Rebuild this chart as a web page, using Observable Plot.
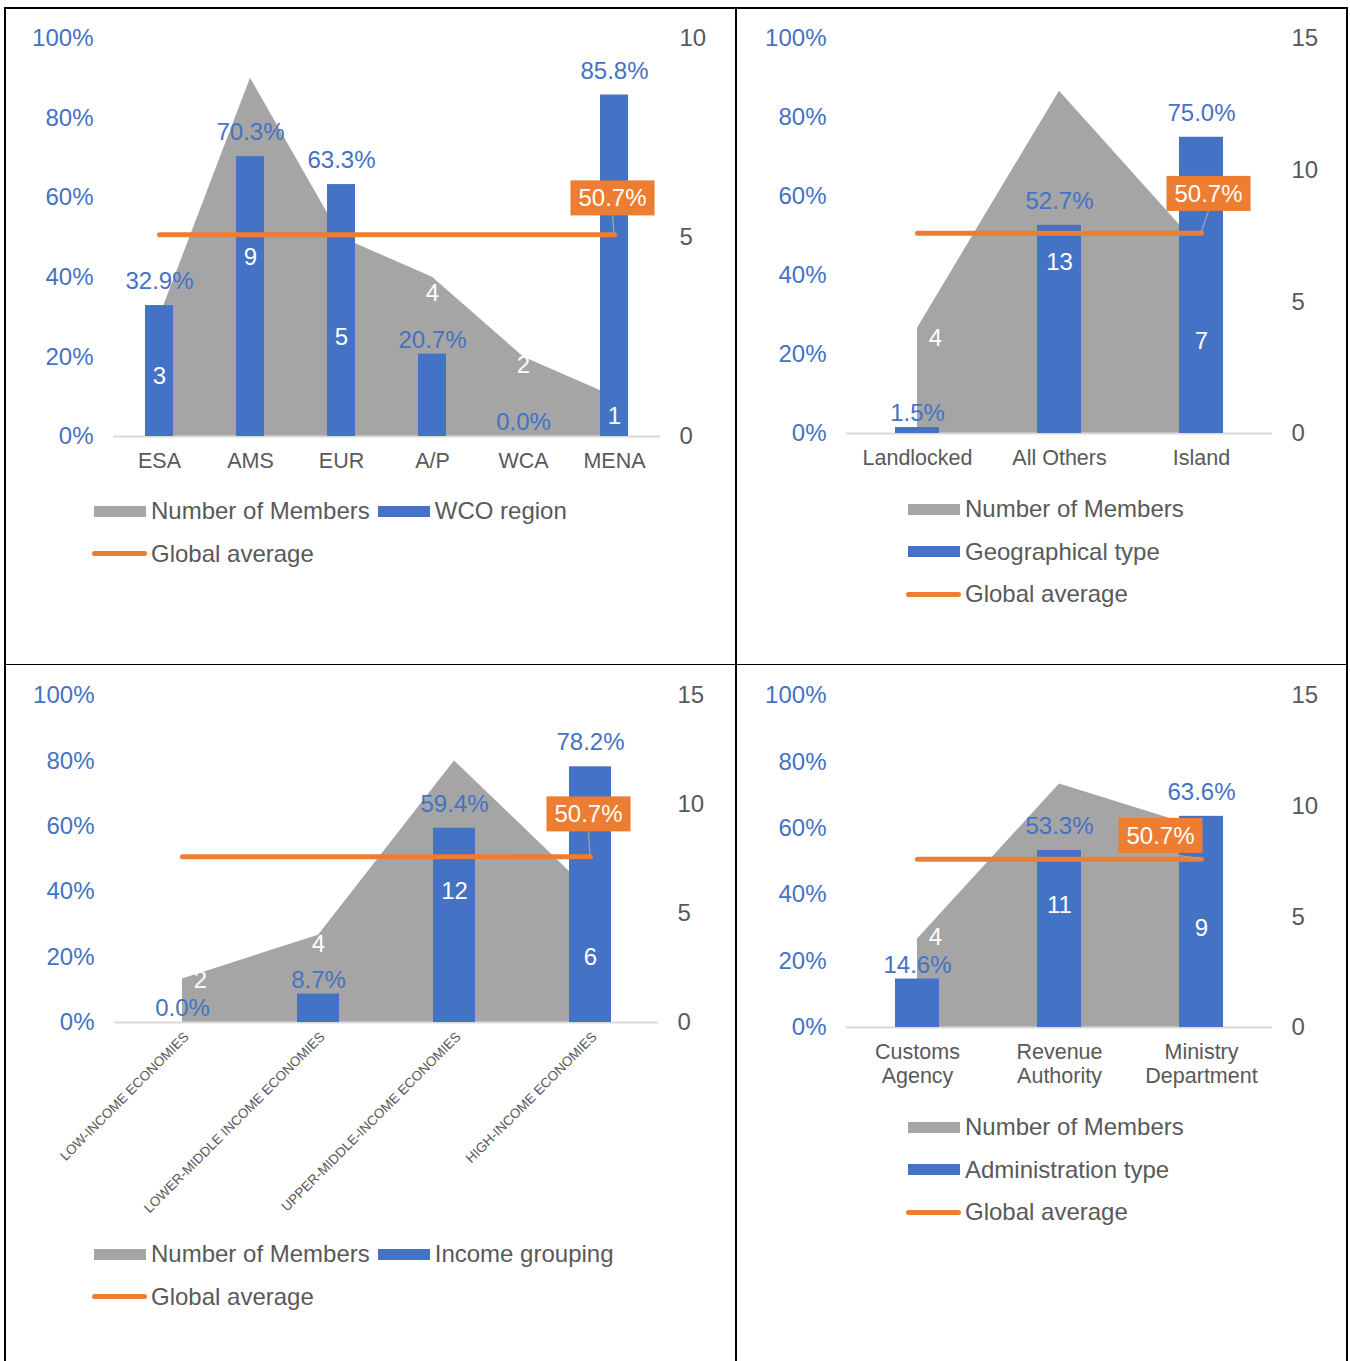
<!DOCTYPE html>
<html><head><meta charset="utf-8">
<script src="https://cdn.jsdelivr.net/npm/d3@7"></script>
<script src="https://cdn.jsdelivr.net/npm/@observablehq/plot@0.6"></script>
<style>
body{margin:0;background:#fff;font-family:"Liberation Sans",Arial,sans-serif;}
#page{position:relative;width:1350px;height:1361px;overflow:hidden;background:#fff;}
.panel{position:absolute;}
.panel svg{overflow:visible;}
.bline{position:absolute;background:#000;}
.leg{position:absolute;font-size:24px;color:#595959;line-height:26px;white-space:nowrap;}
.legrow{display:flex;align-items:center;height:26px;margin-bottom:16.5px;}
.item{display:flex;align-items:center;margin-right:8px;}
.sw{display:inline-block;width:52px;height:11px;margin-right:5px;}
.swl{display:inline-block;width:55px;height:5px;border-radius:3px;margin-right:4px;margin-left:-2px;}
</style></head>
<body><div id="page"></div>
<script>
// ---------------- data ----------------
const regionCats = ["ESA","AMS","EUR","A/P","WCA","MENA"];
const regionPct = [32.9,70.3,63.3,20.7,0.0,85.8];
const regionMembers = [3,9,5,4,2,1];

const geoCats = ["Landlocked","All Others","Island"];
const geoPct = [1.5,52.7,75.0];
const geoMembers = [4,13,7];

const incomeCats = ["LOW-INCOME ECONOMIES","LOWER-MIDDLE INCOME ECONOMIES","UPPER-MIDDLE-INCOME ECONOMIES","HIGH-INCOME ECONOMIES"];
const incomePct = [0.0,8.7,59.4,78.2];
const incomeMembers = [2,4,12,6];

const adminCats = ["Customs Agency","Revenue Authority","Ministry Department"];
const adminPct = [14.6,53.3,63.6];
const adminMembers = [4,11,9];

const globalAverage = 50.7;
const pctTicks = [0,20,40,60,80,100];
const regionMemberTicks = [0,5,10];
const otherMemberTicks = [0,5,10,15];

const BLUE = "#4472C4", GRAY = "#A5A5A5", ORANGE = "#ED7D31", TEXT = "#595959";
const FS = 24;
const page = document.getElementById("page");
const SVGNS = "http://www.w3.org/2000/svg";

// ---------------- borders ----------------
[[4,7,1344,2],[4,7,2,1354],[735,7,2,1354],[1346,7,2,1354],[4,664,1344,1]].forEach(([l,t,w,h])=>{
  const d=document.createElement("div");d.className="bline";
  Object.assign(d.style,{left:l+"px",top:t+"px",width:w+"px",height:h+"px"});page.appendChild(d);
});

function panel(o){
  const {cats,pct,members,memberMax,memberTicks} = o;
  const innerH = o.height-o.mt-o.mb;
  const gapPct = 42/innerH*100;              // keep member label clear of the % label
  const data = cats.map((c,i)=>({cat:c,i,pct:pct[i],members:members[i],m:members[i]/memberMax*100}));
  // member-count label: centred in the bar when the bar is tall enough, otherwise near the area top
  const centered = d => d.pct/100*memberMax > d.members/2 + 1;
  const labelY = d => centered(d) ? d.members/2/memberMax*100
                                  : Math.max(d.members*0.9/memberMax*100, d.pct+gapPct);
  const shifted = data.filter(d => d.i===0 && !centered(d));
  const plain = data.filter(d => !(d.i===0 && !centered(d)));
  const tall = data.filter(centered), low = data.filter(d=>!centered(d));
  const last = data[data.length-1];
  const avgStr = globalAverage.toFixed(1)+"%";
  const pctText = d=>d.pct.toFixed(1)+"%";

  const xAxis = o.rotate
    ? Plot.axisX({tickSize:0,tickPadding:12,tickRotate:-45,fontSize:13.5,fill:TEXT,label:null,dx:4})
    : Plot.axisX({tickSize:0,tickPadding:14,fontSize:21.5,fill:TEXT,label:null,lineHeight:1.12,
        tickFormat: o.multiline ? (d=>d.split(" ").join("\n")) : (d=>d)});

  const chart = Plot.plot({
    width:o.width,height:o.height,
    marginLeft:o.ml,marginRight:o.mr,marginTop:o.mt,marginBottom:o.mb,
    style:{fontFamily:'"Liberation Sans",Arial,sans-serif',fontSize:FS+"px",color:TEXT,background:"transparent",overflow:"visible"},
    x:{type:"band",domain:cats,paddingInner:0.69,paddingOuter:0.345,align:0.5,label:null},
    y:{domain:[0,100],label:null},
    marks:[
      Plot.areaY(data,{x:"cat",y:"m",fill:GRAY}),
      Plot.ruleY([0],{stroke:"#D9D9D9",strokeWidth:2}),
      Plot.barY(data,{x:"cat",y:"pct",fill:BLUE}),
      Plot.lineY(data,{x:"cat",y:()=>globalAverage,stroke:ORANGE,strokeWidth:5,strokeLinecap:"round"}),
      Plot.text(tall,{x:"cat",y:"pct",text:pctText,dy:-24,fill:BLUE,fontSize:FS}),
      Plot.text(low,{x:"cat",y:"pct",text:pctText,dy:-14,fill:BLUE,fontSize:FS}),
      Plot.text(plain,{x:"cat",y:labelY,text:d=>String(d.members),fill:"white",fontSize:FS}),
      Plot.text(shifted,{x:"cat",y:labelY,text:d=>String(d.members),dx:18,fill:"white",fontSize:FS}),
      Plot.text([last],{x:"cat",y:()=>globalAverage,text:()=>avgStr,dx:o.avgDx,dy:o.avgDy,fill:"white",fontSize:FS}),
      Plot.axisY({anchor:"left",ticks:pctTicks,tickFormat:d=>d+"%",tickSize:0,tickPadding:20,fill:BLUE,fontSize:FS,label:null}),
      Plot.axisY({anchor:"right",ticks:memberTicks.map(t=>t/memberMax*100),tickFormat:d=>String(Math.round(d*memberMax/100)),tickSize:0,tickPadding:19,fill:TEXT,fontSize:FS,label:null}),
      xAxis
    ]
  });
  const wrap=document.createElement("div");wrap.className="panel";
  wrap.style.left=o.left+"px";wrap.style.top=o.top+"px";
  wrap.appendChild(chart);page.appendChild(wrap);

  // orange call-out box + leader line behind the global-average label
  const svgEl = chart.tagName.toLowerCase()==="svg" ? chart : chart.querySelector("svg");
  const t = Array.from(svgEl.querySelectorAll("text")).find(e=>e.textContent===avgStr);
  if(t){
    const b=t.getBBox(), M=t.getCTM();
    const x0=M.e+b.x*M.a, w=b.width*M.a, cy=M.f+(b.y+b.height/2)*M.d;
    const padX=8, boxH=35;
    let top=t; while(top.parentNode!==svgEl) top=top.parentNode;
    const rect=document.createElementNS(SVGNS,"rect");
    rect.setAttribute("x",x0-padX);rect.setAttribute("y",cy-boxH/2);
    rect.setAttribute("width",w+2*padX);rect.setAttribute("height",boxH);rect.setAttribute("fill",ORANGE);
    svgEl.insertBefore(rect,top);
    let ex, ey;
    try{
      const xs=chart.scale("x"), ys=chart.scale("y");
      ex=xs.apply(last.cat)+xs.bandwidth/2; ey=ys.apply(globalAverage);
    }catch(e){
      const step=(o.width-o.ml-o.mr)/cats.length;
      ex=o.ml+step*(cats.length-0.5); ey=o.mt+innerH*(1-globalAverage/100);
    }
    const bb=cy+boxH/2, bx=x0+w/2;
    if(ey-bb>4){
      const ln=document.createElementNS(SVGNS,"line");
      ln.setAttribute("x1",bx);ln.setAttribute("y1",bb);ln.setAttribute("x2",ex);ln.setAttribute("y2",ey);
      ln.setAttribute("stroke",GRAY);ln.setAttribute("stroke-width",1.2);
      svgEl.insertBefore(ln,rect);
    }
  }

  // legend
  const leg=document.createElement("div");leg.className="leg";
  leg.style.left=o.legLeft+"px";leg.style.top=o.legTop+"px";
  const items={
    members:`<span class="sw" style="background:${GRAY}"></span>Number of Members`,
    series:`<span class="sw" style="background:${BLUE}"></span>${o.seriesName}`,
    avg:`<span class="swl" style="background:${ORANGE}"></span>Global average`
  };
  leg.innerHTML=o.legRows.map(r=>`<div class="legrow">${r.map(k=>`<span class="item">${items[k]}</span>`).join("")}</div>`).join("");
  page.appendChild(leg);
}

panel({cats:regionCats,pct:regionPct,members:regionMembers,memberMax:10,memberTicks:regionMemberTicks,
  left:5,top:8,width:732,height:480,ml:108,mr:77,mt:30,mb:52,avgDx:-2,avgDy:-36,
  seriesName:"WCO region",legLeft:94,legTop:498,legRows:[["members","series"],["avg"]]});

panel({cats:geoCats,pct:geoPct,members:geoMembers,memberMax:15,memberTicks:otherMemberTicks,
  left:737,top:8,width:611,height:480,ml:109,mr:76,mt:30,mb:55,avgDx:7,avgDy:-39,
  seriesName:"Geographical type",legLeft:908,legTop:496,legRows:[["members"],["series"],["avg"]]});

panel({cats:incomeCats,pct:incomePct,members:incomeMembers,memberMax:15,memberTicks:otherMemberTicks,rotate:true,
  left:5,top:664,width:732,height:560,ml:109,mr:79,mt:31,mb:202,avgDx:-2,avgDy:-42,
  seriesName:"Income grouping",legLeft:94,legTop:1241,legRows:[["members","series"],["avg"]]});

panel({cats:adminCats,pct:adminPct,members:adminMembers,memberMax:15,memberTicks:otherMemberTicks,multiline:true,
  left:737,top:664,width:611,height:460,ml:109,mr:76,mt:31,mb:97,avgDx:-41,avgDy:-23,
  seriesName:"Administration type",legLeft:908,legTop:1114,legRows:[["members"],["series"],["avg"]]});
</script>
</body></html>
